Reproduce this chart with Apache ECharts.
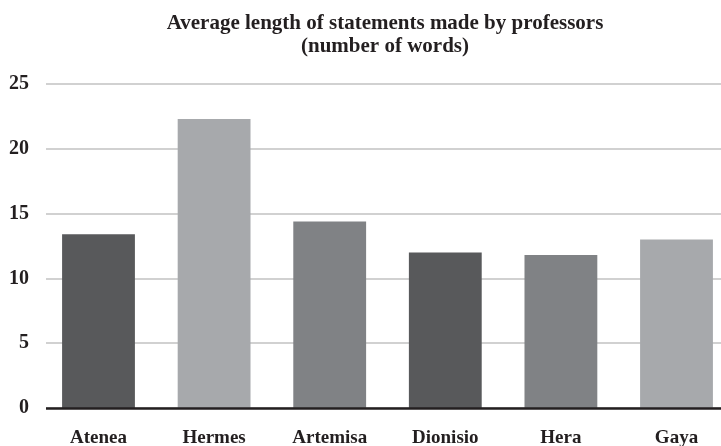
<!DOCTYPE html>
<html>
<head>
<meta charset="utf-8">
<script src="https://cdn.jsdelivr.net/npm/echarts@6/dist/echarts.min.js"></script>
<style>
  html, body { margin: 0; padding: 0; background: #fff; }
  #chart { width: 721px; height: 446px; }
</style>
</head>
<body>
<div id="chart"></div>
<script>
const professors = ['Atenea', 'Hermes', 'Artemisa', 'Dionisio', 'Hera', 'Gaya'];
const avgWords = [13.4, 22.3, 14.4, 12.0, 11.8, 13.0];
const barColors = ['#58595b', '#a7a9ac', '#808285', '#58595b', '#808285', '#a7a9ac'];
const yTicks = [0, 5, 10, 15, 20, 25];

const FONT = '"Liberation Serif", "DejaVu Serif", serif';
const TEXT = '#231f20';

const chart = echarts.init(document.getElementById('chart'));

chart.setOption({
  animation: false,
  title: {
    text: 'Average length of statements made by professors\n(number of words)',
    left: 380,
    top: 7,
    textAlign: 'center',
    textStyle: {
      fontFamily: FONT,
      fontWeight: 'bold',
      fontSize: 21,
      lineHeight: 23,
      color: TEXT
    }
  },
  // grid 0 holds the value axis + gridlines, grid 1 holds the bars
  // (the bar grid runs past the right edge, as in the original crop)
  grid: [
    { left: 46, right: 0, top: 84, bottom: 38, outerBoundsMode: 'none' },
    { left: 40.7, width: 693.6, top: 84, bottom: 38, outerBoundsMode: 'none' }
  ],
  xAxis: [
    {
      type: 'category',
      gridIndex: 0,
      data: [''],
      show: false
    },
    {
      type: 'category',
      gridIndex: 1,
      data: professors,
      axisLine: { show: false },
      axisTick: { show: false },
      axisLabel: {
        margin: 21,
        fontFamily: FONT,
        fontWeight: 'bold',
        fontSize: 19,
        color: TEXT
      }
    }
  ],
  yAxis: [
    {
      type: 'value',
      gridIndex: 0,
      min: 0,
      max: yTicks[yTicks.length - 1],
      interval: 5,
      axisLine: { show: false },
      axisTick: { show: false },
      axisLabel: {
        margin: 17,
        fontFamily: FONT,
        fontWeight: 'bold',
        fontSize: 20,
        color: TEXT
      },
      splitLine: { lineStyle: { color: '#c2c2c2', width: 1.5 } }
    },
    {
      type: 'value',
      gridIndex: 1,
      min: 0,
      max: 25,
      show: false
    }
  ],
  series: [
    {
      type: 'bar',
      xAxisIndex: 1,
      yAxisIndex: 1,
      barCategoryGap: '37%',
      data: avgWords.map((v, i) => ({ value: v, itemStyle: { color: barColors[i] } })),
      z: 2
    },
    {
      // baseline at zero
      type: 'line',
      xAxisIndex: 0,
      yAxisIndex: 0,
      data: [],
      markLine: {
        silent: true,
        symbol: 'none',
        label: { show: false },
        lineStyle: { color: '#231f20', width: 2.5, type: 'solid' },
        data: [{ yAxis: 0 }]
      },
      z: 5
    }
  ]
});
</script>
</body>
</html>
